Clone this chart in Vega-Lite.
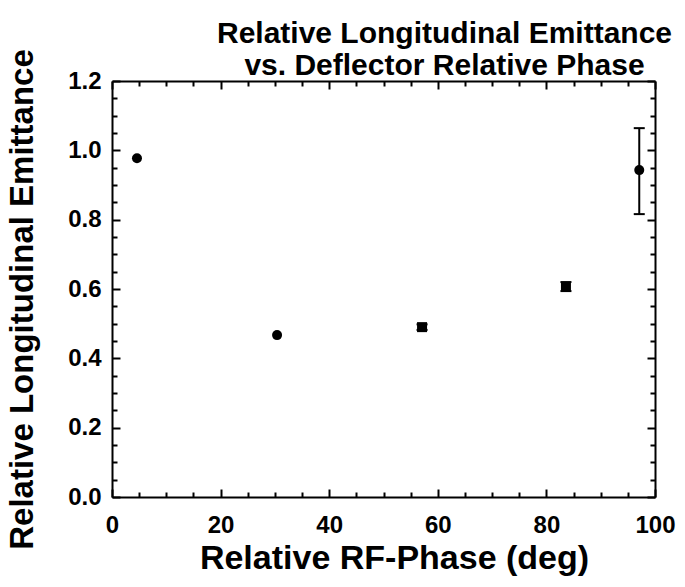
{
  "$schema": "https://vega.github.io/schema/vega-lite/v6.json",
  "width": 543,
  "height": 416,
  "autosize": {"type": "none"},
  "padding": {"left": 112, "top": 81, "right": 30, "bottom": 90},
  "background": "white",
  "config": {
    "view": {"stroke": null},
    "font": "Liberation Sans",
    "axis": {
      "domainColor": "black", "domainWidth": 2, "tickColor": "black", "tickWidth": 2,
      "grid": false, "labelColor": "black", "titleColor": "black", "labelFlush": false,
      "labelFont": "Liberation Sans", "labelFontWeight": "bold", "labelFontSize": 24,
      "titleFont": "Liberation Sans", "titleFontWeight": "bold"
    }
  },
  "title": {
    "text": ["Relative Longitudinal Emittance", "vs. Deflector Relative Phase"],
    "font": "Liberation Sans", "fontWeight": "bold", "fontSize": 30, "lineHeight": 32,
    "color": "black", "anchor": "middle", "dx": 61, "offset": -32
  },
  "data": {
    "values": [
      {"phase": 4.6, "emit": 0.977, "lo": null, "hi": null},
      {"phase": 30.4, "emit": 0.467, "lo": null, "hi": null},
      {"phase": 57.1, "emit": 0.490, "lo": 0.482, "hi": 0.498},
      {"phase": 83.6, "emit": 0.606, "lo": 0.594, "hi": 0.620},
      {"phase": 97.1, "emit": 0.943, "lo": 0.816, "hi": 1.064}
    ]
  },
  "resolve": {"axis": {"x": "independent", "y": "independent"}},
  "layer": [
    {
      "transform": [{"filter": "datum.lo != null"}],
      "mark": {"type": "rule", "color": "black", "strokeWidth": 2},
      "encoding": {
        "x": {"field": "phase", "type": "quantitative",
          "scale": {"domain": [0, 100], "nice": false},
          "axis": {
            "orient": "bottom", "title": "Relative RF-Phase (deg)", "titleFontSize": 34,
            "values": [0,5,10,15,20,25,30,35,40,45,50,55,60,65,70,75,80,85,90,95,100],
            "labelExpr": "datum.value % 20 === 0 ? datum.label : ''",
            "tickSize": {"condition": {"test": "datum.value % 20 === 0", "value": -8}, "value": -5},
            "labelPadding": 24, "titlePadding": 4, "titleX": 282
          }
        },
        "y": {"field": "lo", "type": "quantitative",
          "scale": {"domain": [0, 1.2], "nice": false},
          "axis": {
            "orient": "left", "title": "Relative Longitudinal Emittance", "titleFontSize": 33,
            "values": [0,0.05,0.1,0.15,0.2,0.25,0.3,0.35,0.4,0.45,0.5,0.55,0.6,0.65,0.7,0.75,0.8,0.85,0.9,0.95,1,1.05,1.1,1.15,1.2],
            "labelExpr": "round(datum.value * 100) % 20 === 0 ? format(datum.value, '.1f') : ''",
            "tickSize": {"condition": {"test": "round(datum.value * 100) % 20 === 0", "value": -8}, "value": -5},
            "labelPadding": 19, "titlePadding": 28, "titleY": 218
          }
        },
        "y2": {"field": "hi"}
      }
    },
    {
      "transform": [{"filter": "datum.lo != null"}],
      "mark": {"type": "tick", "orient": "horizontal", "color": "black", "size": 11, "thickness": 2, "opacity": 1},
      "encoding": {
        "x": {"field": "phase", "type": "quantitative", "axis": null},
        "y": {"field": "lo", "type": "quantitative", "axis": null}
      }
    },
    {
      "transform": [{"filter": "datum.lo != null"}],
      "mark": {"type": "tick", "orient": "horizontal", "color": "black", "size": 11, "thickness": 2, "opacity": 1},
      "encoding": {
        "x": {"field": "phase", "type": "quantitative", "axis": null},
        "y": {"field": "hi", "type": "quantitative", "axis": null}
      }
    },
    {
      "transform": [{"filter": "datum.phase < 40 || datum.phase > 90"}],
      "mark": {"type": "point", "shape": "circle", "filled": true, "color": "black", "opacity": 1, "size": 100},
      "encoding": {
        "x": {"field": "phase", "type": "quantitative", "axis": null},
        "y": {"field": "emit", "type": "quantitative", "axis": null}
      }
    },
    {
      "transform": [{"filter": "datum.phase > 40 && datum.phase < 90"}],
      "mark": {"type": "point", "shape": "square", "filled": true, "color": "black", "opacity": 1, "size": 100},
      "encoding": {
        "x": {"field": "phase", "type": "quantitative", "axis": null},
        "y": {"field": "emit", "type": "quantitative", "axis": null}
      }
    },
    {
      "mark": {"type": "point", "opacity": 0},
      "encoding": {
        "x": {"field": "phase", "type": "quantitative",
          "axis": {
            "orient": "top", "title": null, "labels": false,
            "values": [0,5,10,15,20,25,30,35,40,45,50,55,60,65,70,75,80,85,90,95,100],
            "tickSize": {"condition": {"test": "datum.value % 20 === 0", "value": -8}, "value": -5}
          }
        },
        "y": {"field": "emit", "type": "quantitative",
          "axis": {
            "orient": "right", "title": null, "labels": false,
            "values": [0,0.05,0.1,0.15,0.2,0.25,0.3,0.35,0.4,0.45,0.5,0.55,0.6,0.65,0.7,0.75,0.8,0.85,0.9,0.95,1,1.05,1.1,1.15,1.2],
            "tickSize": {"condition": {"test": "round(datum.value * 100) % 20 === 0", "value": -8}, "value": -5}
          }
        }
      }
    }
  ]
}
